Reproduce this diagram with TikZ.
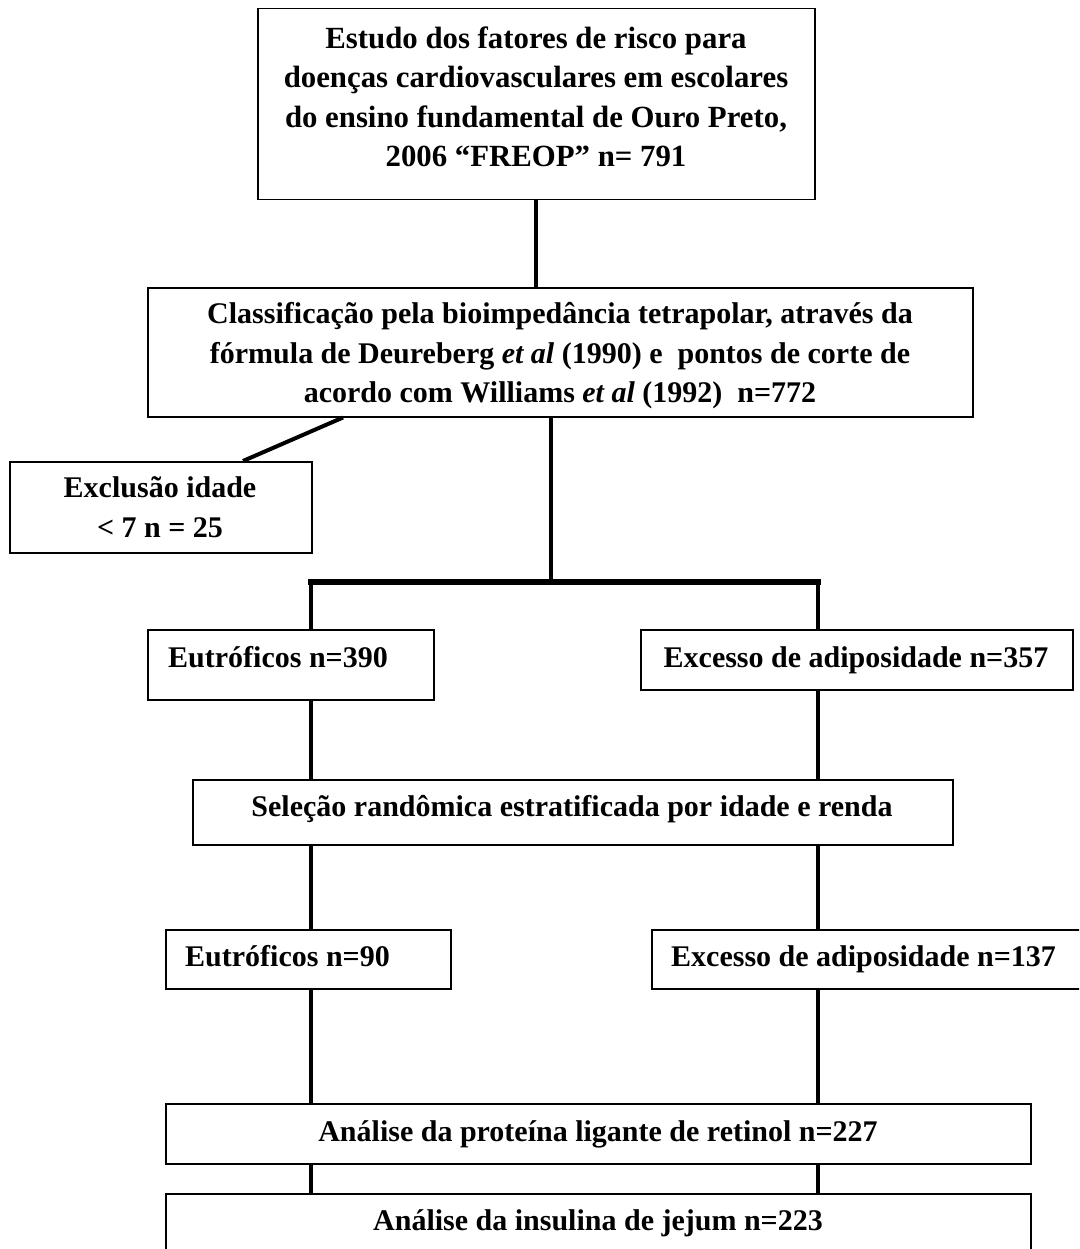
\documentclass[tikz,border=0pt]{standalone}
\usepackage{fontspec}
\setmainfont{Liberation Serif}
\usetikzlibrary{calc}

\begin{document}
\begin{tikzpicture}[x=1pt, y=-1pt,
  every node/.style={font=\fontsize{30}{39.5}\selectfont\bfseries},
  box/.style={draw, line width=1.5pt, inner sep=0pt, anchor=north west},
  txt/.style={inner sep=0pt, align=center},
  link/.style={line width=4pt},
  bar/.style={line width=6pt, line cap=rect}
]
\clip (0,0) rectangle (1079,1249);
\fill[white] (0,0) rectangle (1079,1249);
% caixas
\node[box, minimum width=557pt, minimum height=191pt] (top) at (257,8) {};
\node[txt, font=\fontsize{30.8}{39.5}\selectfont\bfseries] (toptxt) at (536,97) {Estudo dos fatores de risco para\\doenças cardiovasculares em escolares\\do ensino fundamental de Ouro Preto,\\2006 “FREOP” n= 791};
\node[box, minimum width=825pt, minimum height=129pt] (class) at (147,287) {};
\node[txt] (classtxt) at (560,356) {Classificação pela bioimpedância tetrapolar, através da\\fórmula de Deureberg \textit{et al} (1990) e~ pontos de corte de\\acordo com Williams \textit{et al} (1992)~ n=772};
\node[box, minimum width=302pt, minimum height=91pt] (excl) at (9,461) {};
\node[txt] (excltxt) at (160,507) {Exclusão idade\\< 7 n = 25};
\node[box, minimum width=286pt, minimum height=70pt] (eut1) at (147,629) {};
\node[txt, anchor=base west] (eut1txt) at (168,667) {Eutróficos n=390};
\node[box, minimum width=432pt, minimum height=60pt] (exc1) at (640,629) {};
\node[txt, anchor=base] (exc1txt) at (856,667) {Excesso de adiposidade n=357};
\node[box, minimum width=760pt, minimum height=65pt] (sel) at (192,779) {};
\node[txt, anchor=base] (seltxt) at (572,816) {Seleção randômica estratificada por idade e renda};
\node[box, minimum width=285pt, minimum height=59pt] (eut2) at (165,929) {};
\node[txt, anchor=base west] (eut2txt) at (185,966) {Eutróficos n=90};
\node[box, minimum width=440pt, minimum height=59pt] (exc2) at (651,929) {};
\node[txt, anchor=base west] (exc2txt) at (671,966) {Excesso de adiposidade n=137};
\node[box, minimum width=865pt, minimum height=60pt] (rbp) at (165,1103) {};
\node[txt, anchor=base] (rbptxt) at (598,1141) {Análise da proteína ligante de retinol n=227};
\node[box, minimum width=865pt, minimum height=80pt] (ins) at (165,1193) {};
\node[txt, anchor=base] (instxt) at (598,1230) {Análise da insulina de jejum n=223};
% ligacoes
\coordinate (split) at (551,582);
\coordinate (barL) at (311,582);
\coordinate (barR) at (818,582);
\draw[link] (top.south) -- (top.south |- class.north);
\draw[link] ([xshift=196pt]class.south west) -- ([xshift=234pt]excl.north west);
\draw[link] (class.south -| split) -- (split);
\draw[bar] (barL) -- (barR);
\draw[link] (barL) -- (barL |- eut1.north);
\draw[link] (barR) -- (barR |- exc1.north);
\draw[link] (eut1.south -| barL) -- (barL |- sel.north);
\draw[link] (exc1.south -| barR) -- (barR |- sel.north);
\draw[link] (sel.south -| barL) -- (barL |- eut2.north);
\draw[link] (sel.south -| barR) -- (barR |- exc2.north);
\draw[link] (eut2.south -| barL) -- (barL |- rbp.north);
\draw[link] (exc2.south -| barR) -- (barR |- rbp.north);
\draw[link] (rbp.south -| barL) -- (barL |- ins.north);
\draw[link] (rbp.south -| barR) -- (barR |- ins.north);
\end{tikzpicture}
\end{document}
